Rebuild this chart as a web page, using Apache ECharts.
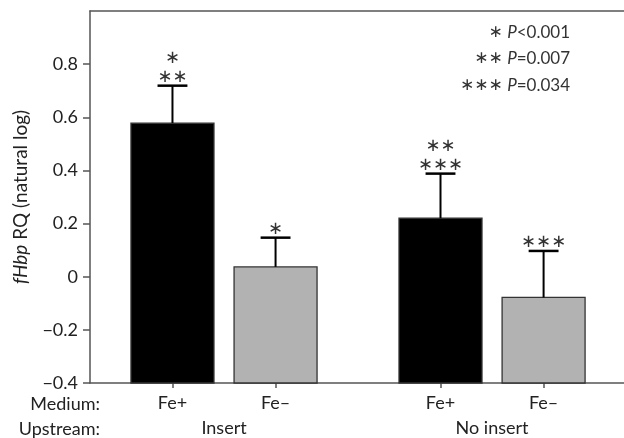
<!DOCTYPE html>
<html><head><meta charset="utf-8">
<script src="https://cdn.jsdelivr.net/npm/echarts@6/dist/echarts.min.js"></script>
<style>html,body{margin:0;padding:0;background:#fff}#c{width:624px;height:438px}</style>
</head><body><div id="c"></div>
<script>
// ---- data ----
const groups = ['Insert', 'No insert'];
const media = ['Fe+', 'Fe–'];
const means = [0.578, 0.037, 0.220, -0.078];
const upper = [0.719, 0.147, 0.388, 0.097];
const stars = [['∗', '∗∗'], ['∗'], ['∗∗', '∗∗∗'], ['∗∗∗']];
const yTicks = [-0.4, -0.2, 0, 0.2, 0.4, 0.6, 0.8];
const pStars = ['∗', '∗∗', '∗∗∗'];
const pText = ['<0.001', '=0.007', '=0.034'];

// ---- layout (not data) ----
const FONT = 'Lato';
const STAR_FONT = 'DejaVu Sans';
const groupStep = 2.6;
const barW = 0.805, capW = 0.29;
const yMin = -0.4, yMax = 1.0;
const colors = ['#000000', '#b2b2b2'];
const axisColor = '#555';
const txt = '#222';

const xs = [];
groups.forEach((g, gi) => media.forEach((m, mi) => xs.push(1 + gi * groupStep + mi)));
const groupCenters = groups.map((g, gi) => 1 + gi * groupStep + (media.length - 1) / 2);
const barData = xs.map((x, i) => [x, means[i], i]);
const errData = xs.map((x, i) => [x, means[i], upper[i], i]);
const idxOf = (arr, v) => arr.findIndex(a => Math.abs(a - v) < 1e-6);

const chart = echarts.init(document.getElementById('c'), null, {renderer: 'canvas'});
const option = {
  animation: false,
  backgroundColor: '#fff',
  grid: {left: 90, right: 0, top: 11, bottom: 55, containLabel: false},
  xAxis: [
    {
      type: 'value', min: 0.2, max: 5.38, position: 'bottom',
      splitLine: {show: false},
      axisLine: {show: true, onZero: false, lineStyle: {color: axisColor, width: 1.5}},
      axisTick: {show: true, customValues: xs, length: 5, lineStyle: {color: axisColor, width: 1.5}},
      axisLabel: {customValues: xs, margin: 11, fontFamily: FONT, fontSize: 18, color: txt,
        formatter: v => { const i = idxOf(xs, v); return i < 0 ? '' : media[i % media.length]; }}
    },
    {
      type: 'value', min: 0.2, max: 5.38, position: 'bottom', offset: 25,
      splitLine: {show: false}, axisLine: {show: false}, axisTick: {show: false},
      axisLabel: {customValues: groupCenters, margin: 11, fontFamily: FONT, fontSize: 18, color: txt,
        formatter: v => { const i = idxOf(groupCenters, v); return i < 0 ? '' : groups[i]; }}
    },
    {
      type: 'value', min: 0.2, max: 5.38, position: 'top',
      splitLine: {show: false}, axisTick: {show: false}, axisLabel: {show: false},
      axisLine: {show: true, onZero: false, lineStyle: {color: axisColor, width: 1.5}}
    }
  ],
  yAxis: {
    type: 'value', min: yMin, max: yMax, interval: 0.2,
    splitLine: {show: false},
    axisLine: {show: true, onZero: false, lineStyle: {color: axisColor, width: 1.5}},
    axisTick: {show: true, customValues: yTicks, length: 7, lineStyle: {color: axisColor, width: 1.5}},
    axisLabel: {customValues: yTicks, margin: 12, fontFamily: FONT, fontSize: 18, color: txt,
      formatter: v => Math.abs(v) < 1e-9 ? '0' : (v < 0 ? '−' : '') + Math.abs(v).toFixed(1)},
    name: '{i|fHbp} RQ (natural log)',
    nameLocation: 'middle', nameGap: 60,
    nameTextStyle: {fontFamily: FONT, fontSize: 19, color: txt,
      rich: {i: {fontFamily: FONT, fontSize: 19, fontStyle: 'italic', color: txt}}}
  },
  series: [
    {
      type: 'custom', xAxisIndex: 0, data: barData, clip: false,
      renderItem(params, api) {
        const x = api.value(0), v = api.value(1), i = api.value(2);
        const p0 = api.coord([x, yMin]), p1 = api.coord([x, v]);
        const w = api.size([barW, 0])[0];
        return {type: 'rect', shape: {x: p0[0] - w / 2, y: p1[1], width: w, height: p0[1] - p1[1]},
          style: {fill: colors[i % 2], stroke: '#333', lineWidth: 1.3}};
      }
    },
    {
      type: 'custom', xAxisIndex: 0, data: errData, clip: false, z: 5,
      renderItem(params, api) {
        const x = api.value(0), m = api.value(1), u = api.value(2), i = api.value(3);
        const pm = api.coord([x, m]), pu = api.coord([x, u]);
        const cw = api.size([capW, 0])[0];
        return {type: 'group', children: [
          {type: 'line', shape: {x1: pm[0], y1: pm[1], x2: pu[0], y2: pu[1]}, style: {stroke: '#000', lineWidth: 2}},
          {type: 'line', shape: {x1: pu[0] - cw / 2, y1: pu[1], x2: pu[0] + cw / 2, y2: pu[1]}, style: {stroke: '#000', lineWidth: 2.5}},
          {type: 'text', x: pu[0], y: pu[1] + 1,
            style: {text: stars[i].join('\n'), align: 'center', verticalAlign: 'bottom',
              font: '18px "' + STAR_FONT + '"', lineHeight: 19, fill: '#333'}}
        ]};
      }
    }
  ],
  graphic: [
    {type: 'text', right: 524, top: 395, style: {text: 'Medium:', font: '18px ' + FONT, fill: txt}},
    {type: 'text', right: 524, top: 420, style: {text: 'Upstream:', font: '18px ' + FONT, fill: txt}}
  ].concat(pStars.map((s, k) => ({
    type: 'text', right: 54, top: 24 + k * 26.5,
    style: {
      text: '{s|' + s + '} {i|P}' + pText[k],
      font: '17px ' + FONT, fill: '#333',
      rich: {
        s: {font: '17px "' + STAR_FONT + '"', fill: '#333'},
        i: {font: 'italic 17px ' + FONT, fill: '#333'}
      }
    }
  })))
};
chart.setOption(option);
</script>
</body></html>
